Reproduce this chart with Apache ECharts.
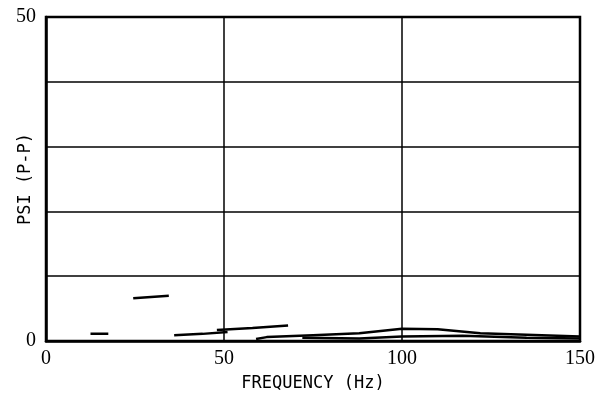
<!DOCTYPE html>
<html>
<head>
<meta charset="utf-8">
<script src="https://cdn.jsdelivr.net/npm/echarts@6/dist/echarts.min.js"></script>
<style>
  html, body { margin: 0; padding: 0; background: #fff; }
  #chart { width: 602px; height: 398px; }
</style>
</head>
<body>
<div id="chart"></div>
<script>
// ticks that carry a label
const xTicks = [0, 50, 100, 150]
const yTicks = [0, 50]

// traces (frequency Hz, psi p-p)
const traceA = [[24.5, 6.6], [34.5, 7.0]]
const traceB = [[12.5, 1.1], [17.5, 1.1]]
const traceC = [[36, 0.9], [44, 1.1], [51, 1.4]]
const traceD = [[48, 1.7], [58, 2.0], [68, 2.4]]
const traceE = [[59, 0.3], [62, 0.6], [75, 0.9], [88, 1.2], [100, 1.9], [110, 1.8], [122, 1.2], [150, 0.7]]
const traceF = [[72, 0.5], [88, 0.4], [100, 0.7], [117, 0.8], [135, 0.5], [150, 0.4]]

const traces = [traceA, traceB, traceC, traceD, traceE, traceF]

const chart = echarts.init(document.getElementById('chart'))
const serif = 'Liberation Serif'
const mono = 'DejaVu Sans Mono'

chart.setOption({
  animation: false,
  grid: {
    left: 46, right: 22, top: 17, bottom: 57,
    containLabel: false,
    outerBoundsMode: 'none',
    show: true,
    borderColor: '#000',
    borderWidth: 2.5
  },
  xAxis: {
    type: 'value',
    min: 0,
    max: 150,
    interval: 50,
    name: 'FREQUENCY (Hz)',
    nameLocation: 'middle',
    nameGap: 34,
    nameMoveOverlap: false,
    nameTextStyle: { color: '#000', fontFamily: mono, fontSize: 17 },
    axisLine: { show: true, lineStyle: { color: '#000', width: 2.5 } },
    axisTick: { show: false },
    axisLabel: {
      color: '#000', fontFamily: serif, fontSize: 20, margin: 8,
      formatter: v => xTicks.includes(v) ? String(v) : ''
    },
    splitLine: { show: true, lineStyle: { color: '#000', width: 1.5 } }
  },
  yAxis: {
    type: 'value',
    min: 0,
    max: 50,
    interval: 10,
    name: 'PSI (P-P)',
    nameLocation: 'middle',
    nameGap: 12,
    nameMoveOverlap: false,
    nameTextStyle: { color: '#000', fontFamily: mono, fontSize: 17 },
    axisLine: { show: true, lineStyle: { color: '#000', width: 2.5 } },
    axisTick: { show: false },
    axisLabel: {
      color: '#000', fontFamily: serif, fontSize: 20, margin: 10,
      formatter: v => yTicks.includes(v) ? String(v) : ''
    },
    splitLine: { show: true, lineStyle: { color: '#000', width: 1.5 } }
  },
  series: traces.map(d => ({
    type: 'line',
    data: d,
    symbol: 'none',
    lineStyle: { color: '#000', width: 2.5 }
  }))
})
</script>
</body>
</html>
